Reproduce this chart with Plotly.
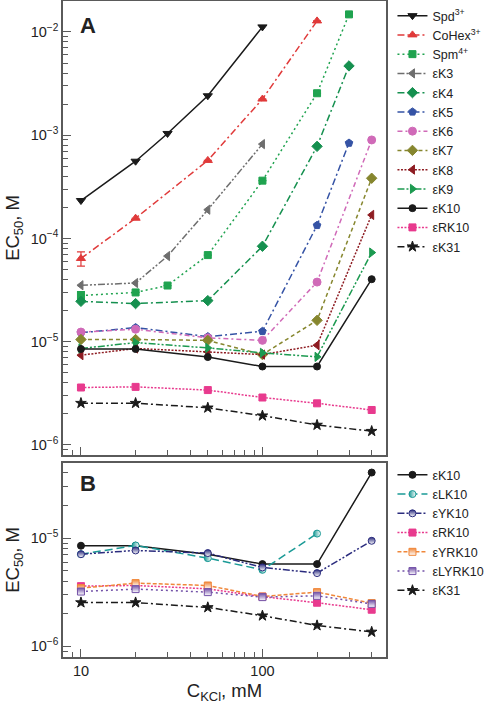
import plotly.graph_objects as go

# ---------------- data ----------------
kcl_full = [10, 20, 50, 100, 200, 400]

spd_x = [10, 20, 30, 50, 100]
spd_y = [2.33e-4, 5.6e-4, 1.04e-3, 2.41e-3, 1.12e-2]

cohex_x = [10, 20, 50, 100, 200]
cohex_y = [6.4e-5, 1.57e-4, 5.7e-4, 2.24e-3, 1.28e-2]
cohex_err = [1.0e-5, 0, 0, 0, 0]

spm_x = [10, 20, 30, 50, 100, 200, 300]
spm_y = [2.8e-5, 3.0e-5, 3.5e-5, 6.9e-5, 3.63e-4, 2.55e-3, 1.48e-2]
spm_err = [2.5e-6, 0, 0, 0, 0, 0, 0]

k3_x = [10, 20, 30, 50, 100]
k3_y = [3.52e-5, 3.7e-5, 6.75e-5, 1.9e-4, 8.2e-4]

k4_x = [10, 20, 50, 100, 200, 300]
k4_y = [2.46e-5, 2.34e-5, 2.5e-5, 8.4e-5, 7.8e-4, 4.69e-3]

k5_x = [10, 20, 50, 100, 200, 300]
k5_y = [1.22e-5, 1.37e-5, 1.12e-5, 1.26e-5, 1.34e-4, 8.4e-4]

k6_x = [10, 20, 50, 100, 200, 400]
k6_y = [1.24e-5, 1.32e-5, 1.09e-5, 1.03e-5, 3.78e-5, 9.0e-4]

k7_y = [1.05e-5, 1.05e-5, 1.03e-5, 7.5e-6, 1.61e-5, 3.83e-4]
k8_y = [7.4e-6, 8.6e-6, 7.96e-6, 7.5e-6, 9.25e-6, 1.69e-4]
k9_y = [8.6e-6, 9.8e-6, 8.7e-6, 7.8e-6, 7.13e-6, 7.3e-5]
k10_y = [8.5e-6, 8.5e-6, 7.1e-6, 5.75e-6, 5.75e-6, 4.03e-5]
rk10_y = [3.6e-6, 3.65e-6, 3.4e-6, 2.88e-6, 2.53e-6, 2.18e-6]
k31_y = [2.54e-6, 2.54e-6, 2.29e-6, 1.92e-6, 1.56e-6, 1.36e-6]

lk10_x = [10, 20, 50, 100, 200]
lk10_y = [7.1e-6, 8.55e-6, 6.53e-6, 5.09e-6, 1.1e-5]
yk10_y = [7.1e-6, 7.69e-6, 7.27e-6, 5.36e-6, 4.75e-6, 9.44e-6]
yrk10_y = [3.45e-6, 3.84e-6, 3.65e-6, 2.89e-6, 3.17e-6, 2.51e-6]
lyrk10_y = [3.21e-6, 3.38e-6, 3.17e-6, 2.85e-6, 2.93e-6, 2.47e-6]

y_major = [1e-6, 1e-5, 1e-4, 1e-3, 1e-2]
y_major_text = ["10<sup>−6</sup>", "10<sup>−5</sup>", "10<sup>−4</sup>", "10<sup>−3</sup>", "10<sup>−2</sup>"]
x_major = [10, 100]
x_major_text = ["10", "100"]

# ---------------- styles ----------------
FONT = "Liberation Sans, Arial, Helvetica, sans-serif"
LW = 1.5
MS = 7

fig = go.Figure()


def add(x, y, name, color, dash, symbol, panel, legend, size=MS, err=None, half=None):
    marker = dict(symbol=symbol, size=size, color=color,
                  line=dict(color=color, width=1.0))
    if half is not None:
        marker["gradient"] = dict(type=half, color="white")
    kw = {}
    if err is not None:
        kw["error_y"] = dict(type="data", array=err, visible=True, color=color,
                             thickness=1.2, width=4)
    fig.add_trace(go.Scatter(
        x=x, y=y, name=name, mode="lines+markers",
        line=dict(color=color, width=LW, dash=dash),
        marker=marker,
        xaxis="x" if panel == 1 else "x2",
        yaxis="y" if panel == 1 else "y2",
        legend=legend, **kw))


DASHDOT = "7px,3px,2px,3px"
DASHDOTDOT = "7px,2px,2px,2px,2px,2px"
DOT = "2px,3px"
DENSEDOT = "2px,1.5px"

# Panel A
add(spd_x, spd_y, "Spd<sup>3+</sup>", "#1a1a1a", "solid", "triangle-down", 1, "legend", size=8)
add(cohex_x, cohex_y, "CoHex<sup>3+</sup>", "#e03a3a", DASHDOT, "triangle-up", 1, "legend", size=8, err=cohex_err)
add(spm_x, spm_y, "Spm<sup>4+</sup>", "#1fa34f", DOT, "square", 1, "legend", size=7, err=spm_err)
add(k3_x, k3_y, "εK3", "#6e6e6e", DASHDOTDOT, "triangle-left", 1, "legend", size=8)
add(k4_x, k4_y, "εK4", "#15904f", DASHDOT, "diamond", 1, "legend", size=8)
add(k5_x, k5_y, "εK5", "#3553a5", DASHDOT, "pentagon", 1, "legend", size=8)
add(k6_x, k6_y, "εK6", "#d06ab8", "5px,3px,2px,3px", "circle", 1, "legend", size=8)
add(kcl_full, k7_y, "εK7", "#86862e", "4px,3px", "diamond", 1, "legend", size=8)
add(kcl_full, k8_y, "εK8", "#8e1c22", DENSEDOT, "triangle-left", 1, "legend", size=8)
add(kcl_full, k9_y, "εK9", "#1c9a50", DASHDOTDOT, "triangle-right", 1, "legend", size=8)
add(kcl_full, k10_y, "εK10", "#1a1a1a", "solid", "circle", 1, "legend")
add(kcl_full, rk10_y, "εRK10", "#e83a8e", DENSEDOT, "square", 1, "legend", size=7)
add(kcl_full, k31_y, "εK31", "#1a1a1a", DASHDOT, "star", 1, "legend", size=8)

# Panel B
add(kcl_full, k10_y, "εK10", "#1a1a1a", "solid", "circle", 2, "legend2")
add(lk10_x, lk10_y, "εLK10", "#1a9a96", "8px,4px", "circle", 2, "legend2", half="horizontal")
add(kcl_full, yk10_y, "εYK10", "#2b2c7e", DASHDOTDOT, "circle", 2, "legend2", half="vertical")
add(kcl_full, rk10_y, "εRK10", "#e83a8e", DENSEDOT, "square", 2, "legend2", size=7)
add(kcl_full, yrk10_y, "εYRK10", "#f0873a", "4px,2px", "square", 2, "legend2", size=7, half="vertical")
add(kcl_full, lyrk10_y, "εLYRK10", "#7352a8", DOT, "square", 2, "legend2", size=7, half="vertical")
add(kcl_full, k31_y, "εK31", "#1a1a1a", DASHDOT, "star", 2, "legend2", size=8)

# ---------------- axes ----------------
minor_y = [m * 10 ** e for e in range(-7, -1) for m in range(2, 10)]
minor_x = [m * 10 ** e for e in range(0, 3) for m in range(2, 10)]

AXC = "#5a5a5a"
common_x = dict(type="log", range=[0.901, 2.681], showgrid=False, zeroline=False,
                showline=True, linecolor=AXC, linewidth=1.5, mirror=True, automargin=False,
                ticks="inside", ticklen=8, tickcolor=AXC, tickwidth=1,
                tickvals=x_major,
                minor=dict(tickvals=minor_x, ticks="inside", ticklen=5, tickcolor=AXC, showgrid=False))
common_y = dict(type="log", showgrid=False, zeroline=False,
                showline=True, linecolor=AXC, linewidth=1.5, mirror=True, automargin=False,
                ticks="inside", ticklen=8, tickcolor=AXC, tickwidth=1,
                tickvals=y_major, ticktext=y_major_text,
                tickfont=dict(size=14.5, color="#222"),
                minor=dict(tickvals=minor_y, ticks="inside", ticklen=5, tickcolor=AXC, showgrid=False),
                title=dict(text="EC<sub>50</sub>, M", font=dict(size=18.5, color="#222"), standoff=6))

fig.update_layout(
    width=496, height=707,
    margin=dict(l=63, r=110, t=1, b=50, autoexpand=False),
    paper_bgcolor="white", plot_bgcolor="white",
    font=dict(family=FONT, color="#222"),
    xaxis=dict(common_x, domain=[0, 1], anchor="y", showticklabels=False),
    yaxis=dict(common_y, domain=[0.308, 1.0], anchor="x", range=[-6.097, -1.70]),
    xaxis2=dict(common_x, domain=[0, 1], anchor="y2", ticktext=x_major_text,
                tickfont=dict(size=14.5, color="#222"),
                title=dict(text="C<sub>KCl</sub>, mM", font=dict(size=18.5, color="#222"), standoff=6)),
    yaxis2=dict(common_y, domain=[0, 0.296], anchor="x2", range=[-6.098, -4.305]),
    legend=dict(x=1.02, xanchor="left", y=1.0, yanchor="top", font=dict(size=12.5),
                bgcolor="rgba(0,0,0,0)", borderwidth=0, tracegroupgap=0),
    legend2=dict(x=1.02, xanchor="left", y=0.300, yanchor="top", font=dict(size=12.5),
                 bgcolor="rgba(0,0,0,0)", borderwidth=0, tracegroupgap=0),
    showlegend=True,
    annotations=[
        dict(text="<b>A</b>", x=0.078, y=0.985, xref="paper", yref="paper",
             xanchor="center", yanchor="top", showarrow=False, font=dict(size=22, color="#222")),
        dict(text="<b>B</b>", x=0.078, y=0.287, xref="paper", yref="paper",
             xanchor="center", yanchor="top", showarrow=False, font=dict(size=22, color="#222")),
    ],
)

fig.write_html("out.html", config={"displayModeBar": False},
               post_script="document.body.style.margin='0px';")
